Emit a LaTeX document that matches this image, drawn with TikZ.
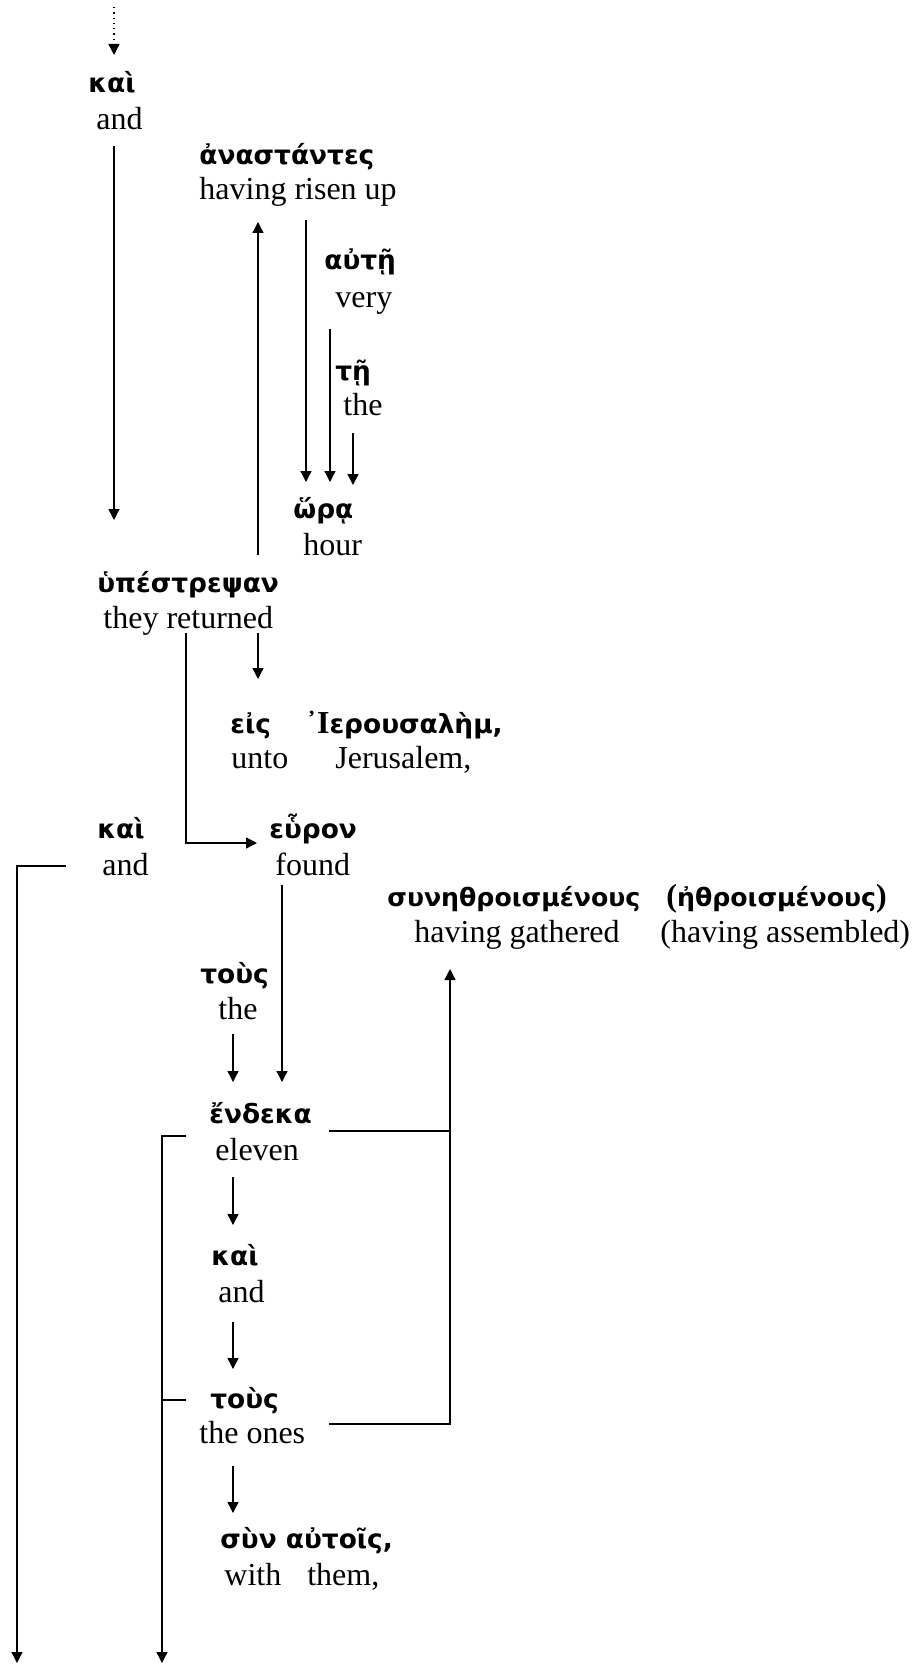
\documentclass[tikz,border=0pt]{standalone}
\usepackage{fontspec}
\setmainfont{Liberation Serif}
\newfontfamily\grk{DejaVu Sans}
\newcommand{\sbf}{\rmfamily\bfseries\fontsize{16}{19}\selectfont}
\usetikzlibrary{arrows.meta,calc}
\tikzset{
  gw/.style={anchor=base west, inner sep=0pt, font=\grk\bfseries\fontsize{13.2}{15}\selectfont},
  gwn/.style={gw, font=\grk\bfseries\fontsize{12.6}{15}\selectfont},
  ew/.style={anchor=base west, inner sep=0pt, font=\fontsize{16}{19}\selectfont},
  conn/.style={line width=0.65pt},
  arr/.style={conn, -{Triangle[length=5.5pt,width=5.5pt]}},
}
\begin{document}
\begin{tikzpicture}[x=0.5pt,y=-0.5pt]
\useasboundingbox (0,0) rectangle (914,1664);
% words
\node[gw] (gKaiA) at (88,93) {καὶ};
\node[ew] (eKaiA) at (96,130) {and};
\node[gw] (gAnast) at (199,165) {ἀναστάντες};
\node[ew] (eAnast) at (199,200) {having risen up};
\node[gw] (gAute) at (324,270) {αὐτῇ};
\node[ew] (eAute) at (335,307) {very};
\node[gw] (gTe) at (335,380) {τῇ};
\node[ew] (eTe) at (343,415) {the};
\node[gw] (gHora) at (293,518) {ὥρᾳ};
\node[ew] (eHora) at (303,555) {hour};
\node[gw] (gHup) at (97,592) {ὑπέστρεψαν};
\node[ew] (eHup) at (103,628) {they returned};
\node[gw] (gEis) at (230,733) {εἰς};
\node[ew] (eEis) at (231,768) {unto};
\node[gw] (gJer) at (306,733) {{\sbf ᾿Ι}ερουσαλὴμ,};
\node[ew] (eJer) at (335,768) {Jerusalem,};
\node[gw] (gKaiB) at (97,838) {καὶ};
\node[ew] (eKaiB) at (102,875) {and};
\node[gw] (gHeuron) at (269,838) {εὗρον};
\node[ew] (eHeuron) at (275,875) {found};
\node[gwn] (gSun) at (387,906) {συνηθροισμένους};
\node[ew] (eSun) at (414,942) {having gathered};
\node[gwn] (gEthr) at (666,906) {{\sbf(}ἠθροισμένους{\sbf)}};
\node[ew] (eEthr) at (660,942) {(having assembled)};
\node[gw] (gTous) at (200,983) {τοὺς};
\node[ew] (eTous) at (218,1019) {the};
\node[gw] (gHendeka) at (209,1123) {ἔνδεκα};
\node[ew] (eHendeka) at (215,1160) {eleven};
\node[gw] (gKaiC) at (211,1265) {καὶ};
\node[ew] (eKaiC) at (218,1302) {and};
\node[gw] (gTousB) at (210,1408) {τοὺς};
\node[ew] (eTousB) at (199,1443) {the ones};
\node[gw] (gSyn) at (220,1548) {σὺν αὐτοῖς,};
\node[ew] (eSyn) at (224,1585) {with\hspace{13pt}them,};
% free ends
\coordinate (top) at (114,7);
\coordinate (bottomA) at (17,1663);
\coordinate (bottomB) at (162,1663);
\coordinate (sunIn) at ($(eSun.base west)+(36,27)$);
\coordinate (hendOut) at ($(gHendeka.base west)+(120,8)$);
% connectors
\draw[arr,dotted] (top) -- ($(gKaiA.base west)+(26,-38)$);
\draw[arr] ($(eKaiA.base west)+(18,16)$) -- ($(gHup.base west)+(17,-72)$);
\draw[arr] ($(gHup.base west)+(161,-37)$) -- ($(eAnast.base west)+(59,22)$);
\draw[arr] ($(eAnast.base west)+(107,20)$) -- ($(gHora.base west)+(13,-36)$);
\draw[arr] ($(eAute.base west)+(-5,22)$) -- ($(gHora.base west)+(37,-36)$);
\draw[arr] ($(eTe.base west)+(10,18)$) -- ($(gHora.base west)+(60,-33)$);
\draw[arr] ($(eHup.base west)+(155,5)$) -- ($(gEis.base west)+(28,-54)$);
\draw[arr] ($(eHup.base west)+(83,5)$) |- ($(gHeuron.base west)+(-12,5)$);
\draw[arr] ($(eKaiB.base west)+(-36,-9)$) -| (bottomA);
\draw[arr] ($(eHeuron.base west)+(7,10)$) -- ($(gHendeka.base west)+(73,-41)$);
\draw[arr] ($(eTous.base west)+(15,15)$) -- ($(gHendeka.base west)+(24,-41)$);
\draw[conn] (hendOut) -- (hendOut -| sunIn);
\draw[arr] ($(eTousB.base west)+(130,-19)$) -| (sunIn);
\draw[arr] ($(gHendeka.base west)+(-23,13)$) -| (bottomB);
\draw[conn] ($(gTousB.base west)+(-24,-8)$) -- ++(-24,0);
\draw[arr] ($(eHendeka.base west)+(18,17)$) -- ($(gKaiC.base west)+(22,-40)$);
\draw[arr] ($(eKaiC.base west)+(15,20)$) -- ($(gTousB.base west)+(23,-39)$);
\draw[arr] ($(eTousB.base west)+(34,23)$) -- ($(gSyn.base west)+(13,-35)$);
\end{tikzpicture}
\end{document}
